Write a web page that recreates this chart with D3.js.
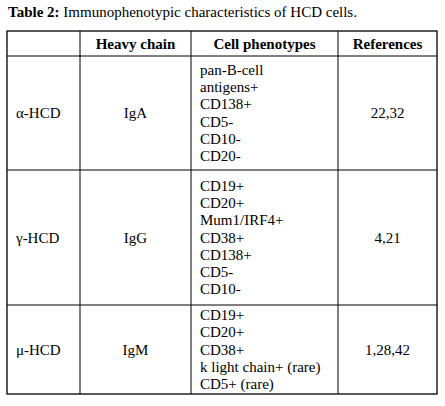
<!DOCTYPE html>
<html><head><meta charset="utf-8">
<script src="https://cdn.jsdelivr.net/npm/d3@7"></script>
<style>body{margin:0;background:#fff} svg text{font-family:"Liberation Serif","Times New Roman","DejaVu Serif",serif}</style>
</head><body>
<script>
var title = ["Table 2:", " Immunophenotypic characteristics of HCD cells."];
var headers = ["", "Heavy chain", "Cell phenotypes", "References"];
var diseases = ["\u03b1-HCD", "\u03b3-HCD", "\u03bc-HCD"];
var heavyChains = ["IgA", "IgG", "IgM"];
var phenotypes = [
	["pan-B-cell", "antigens+", "CD138+", "CD5-", "CD10-", "CD20-"],
	["CD19+", "CD20+", "Mum1/IRF4+", "CD38+", "CD138+", "CD5-", "CD10-"],
	["CD19+", "CD20+", "CD38+", "k light chain+ (rare)", "CD5+ (rare)"]
];
var references = ["22,32", "4,21", "1,28,42"];

var colX = [7, 80, 191, 338, 437],
	rowY = [31, 56, 170, 305, 394],
	lineH = 17.3;

var svg = d3.select("body").append("svg").attr("width", 445).attr("height", 406)
	.style("font-size", "15px");

var t = svg.append("text").attr("x", 8).attr("y", 17).style("font-size", "15px");
t.append("tspan").attr("font-weight", "bold").text(title[0]);
t.append("tspan").text(title[1]);

// grid
svg.append("rect").attr("x", colX[0]).attr("y", rowY[0])
	.attr("width", colX[4] - colX[0]).attr("height", rowY[4] - rowY[0])
	.attr("fill", "none").attr("stroke", "#000").attr("stroke-width", 1.3);
colX.slice(1, 4).forEach(function(x) {
	svg.append("line").attr("x1", x).attr("x2", x).attr("y1", rowY[0]).attr("y2", rowY[4])
		.attr("stroke", "#000").attr("stroke-width", 1);
});
rowY.slice(1, 4).forEach(function(y) {
	svg.append("line").attr("x1", colX[0]).attr("x2", colX[4]).attr("y1", y).attr("y2", y)
		.attr("stroke", "#000").attr("stroke-width", 1);
});

// header
headers.forEach(function(h, i) {
	svg.append("text").attr("x", (colX[i] + colX[i + 1]) / 2).attr("y", (rowY[0] + rowY[1]) / 2 + 5)
		.attr("text-anchor", "middle").attr("font-weight", "bold").text(h);
});

// body rows
diseases.forEach(function(d, r) {
	var mid = (rowY[r + 1] + rowY[r + 2]) / 2 + 5;
	svg.append("text").attr("x", colX[0] + 9).attr("y", mid).text(d);
	svg.append("text").attr("x", (colX[1] + colX[2]) / 2).attr("y", mid)
		.attr("text-anchor", "middle").text(heavyChains[r]);
	svg.append("text").attr("x", (colX[3] + colX[4]) / 2).attr("y", mid)
		.attr("text-anchor", "middle").text(references[r]);
	var lines = phenotypes[r];
	var y0 = mid - (lines.length - 1) * lineH / 2;
	svg.selectAll(null).data(lines).enter().append("text")
		.attr("x", colX[2] + 9).attr("y", function(l, i) { return y0 + i * lineH; })
		.text(function(l) { return l; });
});
</script>
</body></html>
